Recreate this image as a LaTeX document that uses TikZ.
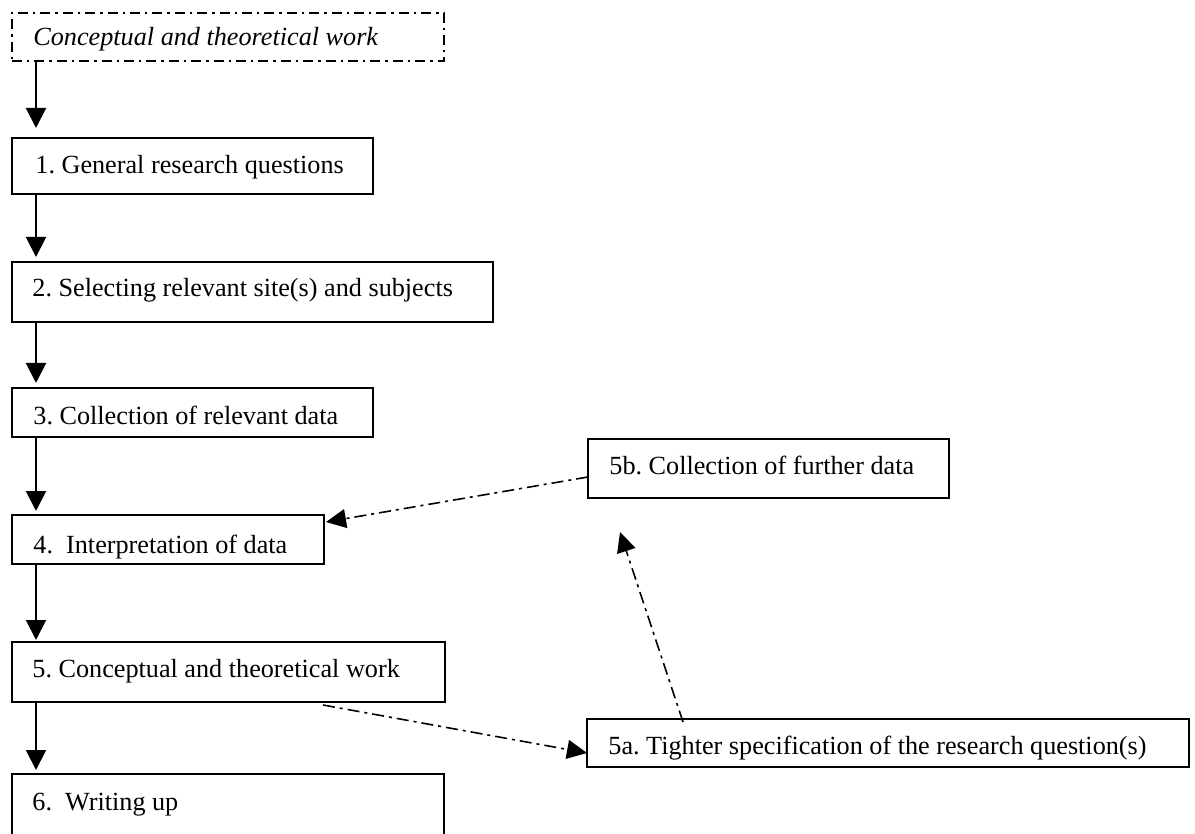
\documentclass[tikz,border=0pt]{standalone}
\usepackage{fontspec}
\setmainfont{Liberation Serif}
\usetikzlibrary{arrows.meta}
\begin{document}
\frenchspacing
\begin{tikzpicture}[x=0.5pt,y=-0.5pt,
  every node/.style={font=\fontsize{13.1}{15}\selectfont},
  box/.style={draw,line width=1.2pt,inner sep=0pt,outer sep=0pt,anchor=north west},
  dbox/.style={box,line width=1pt,dash pattern=on 5pt off 2.5pt on 1.2pt off 2.5pt},
  txt/.style={inner sep=0pt,anchor=base west},
  flow/.style={line width=1pt,-{Triangle[length=10pt,width=10pt]}},
  back/.style={line width=0.8pt,dash pattern=on 6pt off 2.5pt on 1.5pt off 2.5pt,
    -{Triangle[length=10pt,width=9.5pt]}}]
\useasboundingbox (0,0) rectangle (1195,834);
\clip (0,0) rectangle (1195,834);
\fill[white] (0,0) rectangle (1195,834);

% boxes of the main sequence
\node[dbox,minimum width=216pt,minimum height=24pt] (b0) at (12,13) {};
\node[box,minimum width=180.5pt,minimum height=28pt] (b1) at (12,138) {};
\node[box,minimum width=240.5pt,minimum height=30pt] (b2) at (12,262) {};
\node[box,minimum width=180.5pt,minimum height=24.5pt] (b3) at (12,388) {};
\node[box,minimum width=156pt,minimum height=24.5pt] (b4) at (12,515) {};
\node[box,minimum width=216.5pt,minimum height=30pt] (b5) at (12,642) {};
\node[box,minimum width=216pt,minimum height=40pt] (b6) at (12,774) {};
% side loop boxes
\node[box,minimum width=180.5pt,minimum height=29.5pt] (b5b) at (588,439) {};
\node[box,minimum width=301pt,minimum height=24pt] (b5a) at (587,719) {};

% texts
\node[txt] (t0) at (33,46) {\itshape Conceptual and theoretical work};
\node[txt] (t1) at (35,174) {1. General research questions};
\node[txt] (t2) at (32,297) {2. Selecting relevant site(s) and subjects};
\node[txt] (t3) at (33,424) {3. Collection of relevant data};
\node[txt] (t4) at (33,553) {4.\ \ Interpretation of data};
\node[txt] (t5) at (32,677) {5. Conceptual and theoretical work};
\node[txt] (t6) at (32,810) {6.\ \ Writing up};
\node[txt] (t5b) at (609,474) {5b. Collection of further data};
\node[txt] (t5a) at (608,754) {5a. Tighter specification of the research question(s)};

% main downward flow
\draw[flow,shorten >=5pt] ([xshift=12pt]b0.south west) -- ([xshift=12pt]b1.north west);
\draw[flow,shorten >=2.5pt] ([xshift=12pt]b1.south west) -- ([xshift=12pt]b2.north west);
\draw[flow,shorten >=2.5pt] ([xshift=12pt]b2.south west) -- ([xshift=12pt]b3.north west);
\draw[flow,shorten >=2pt] ([xshift=12pt]b3.south west) -- ([xshift=12pt]b4.north west);
\draw[flow,shorten >=1pt] ([xshift=12pt]b4.south west) -- ([xshift=12pt]b5.north west);
\draw[flow,shorten >=2pt] ([xshift=12pt]b5.south west) -- ([xshift=12pt]b6.north west);

% feedback loop
\draw[back] ([xshift=-61pt,yshift=-1.5pt]b5.south east) -- ([yshift=-5pt]b5a.west);
\draw[back] ([xshift=48pt,yshift=-1.5pt]b5a.north west) -- ([xshift=16pt,yshift=-17pt]b5b.south west);
\draw[back] ([yshift=-4.25pt]b5b.west) -- ([xshift=1pt,yshift=-3.5pt]b4.north east);
\end{tikzpicture}
\end{document}
